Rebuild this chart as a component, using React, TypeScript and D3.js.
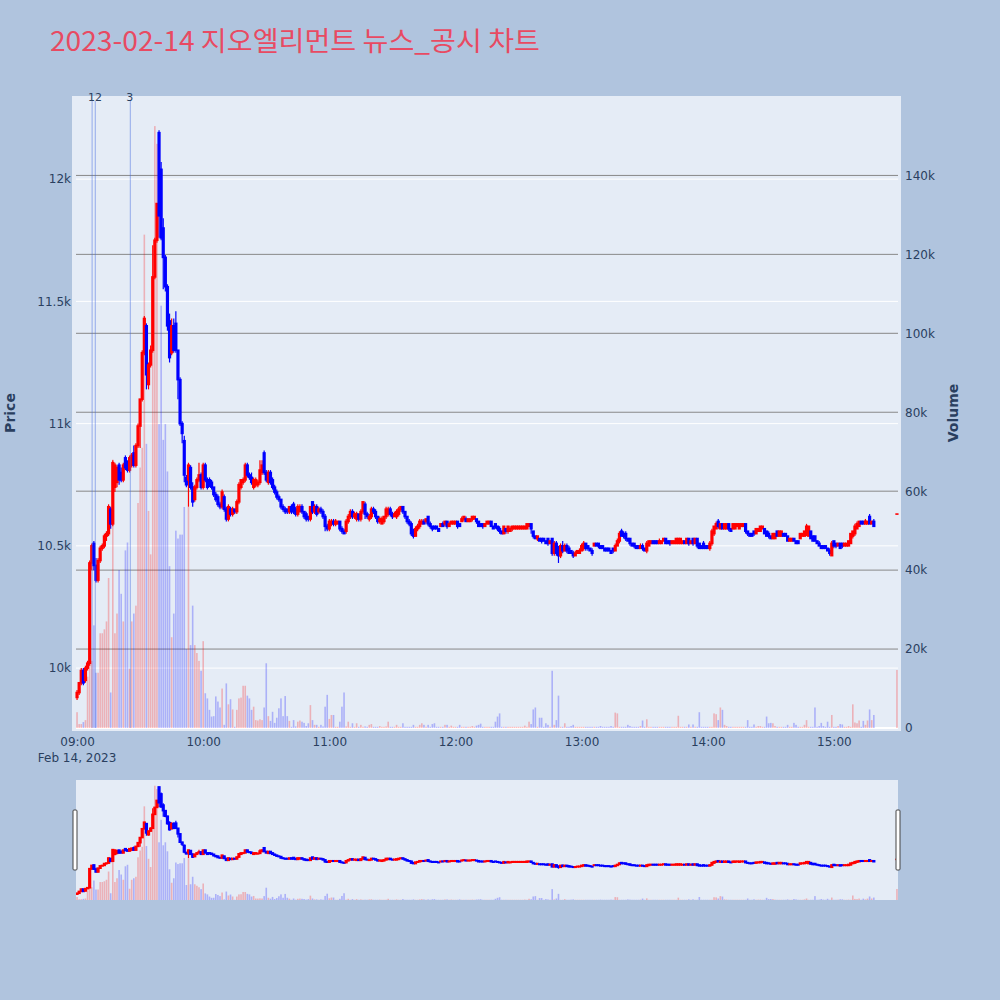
import { useEffect, useRef } from "react";
import * as d3 from "d3";

const title = "2023-02-14 지오엘리먼트 뉴스_공시 차트";
const tradeDay = "2023-02-14";
const firstBar = "09:00:00";

// 1-minute candles from 09:00 to 15:19 (one entry per minute)
const opens = [
  9880, 9900, 9940, 9990, 9950, 10000, 10020, 10430, 10510, 10420,
  10360, 10440, 10490, 10500, 10540, 10550, 10650, 10590, 10740, 10760,
  10830, 10800, 10770, 10860, 10830, 10810, 10830, 10880, 10830, 10910,
  10990, 11100, 11290, 11400, 11160, 11240, 11300, 11600, 11750, 12190,
  12040, 11800, 11680, 11560, 11420, 11290, 11400, 11410, 11300, 11180,
  11000, 10930, 10780, 10770, 10820, 10740, 10690, 10740, 10770, 10790,
  10740, 10830, 10770, 10770, 10760, 10740, 10710, 10700, 10670, 10660,
  10700, 10650, 10610, 10650, 10630, 10650, 10640, 10680, 10740, 10760,
  10770, 10830, 10790, 10780, 10740, 10750, 10750, 10760, 10800, 10880,
  10800, 10760, 10800, 10770, 10740, 10720, 10700, 10690, 10660, 10650,
  10650, 10640, 10660, 10670, 10650, 10630, 10640, 10660, 10640, 10630,
  10620, 10610, 10680, 10640, 10660, 10640, 10650, 10640, 10620, 10580,
  10570, 10590, 10600, 10590, 10590, 10600, 10570, 10560, 10560, 10600,
  10620, 10640, 10620, 10610, 10630, 10610, 10640, 10670, 10630, 10610,
  10620, 10650, 10640, 10620, 10600, 10590, 10600, 10620, 10630, 10650,
  10630, 10620, 10620, 10630, 10650, 10660, 10640, 10620, 10600, 10590,
  10560, 10540, 10570, 10580, 10590, 10600, 10600, 10620, 10590, 10580,
  10580, 10580, 10570, 10580, 10590, 10590, 10600, 10580, 10590, 10590,
  10590, 10600, 10590, 10600, 10610, 10610, 10600, 10600, 10610, 10610,
  10610, 10600, 10590, 10590, 10580, 10590, 10590, 10600, 10580, 10590,
  10580, 10570, 10560, 10550, 10570, 10560, 10560, 10570, 10570, 10570,
  10570, 10570, 10570, 10570, 10570, 10580, 10590, 10560, 10540, 10530,
  10530, 10530, 10530, 10520, 10530, 10510, 10530, 10470, 10510, 10480,
  10460, 10500, 10480, 10500, 10490, 10480, 10470, 10460, 10470, 10470,
  10480, 10490, 10510, 10500, 10490, 10480, 10500, 10510, 10510, 10500,
  10500, 10490, 10490, 10490, 10480, 10490, 10480, 10500, 10520, 10560,
  10550, 10550, 10530, 10530, 10510, 10510, 10500, 10500, 10490, 10500,
  10490, 10480, 10500, 10510, 10520, 10520, 10520, 10510, 10510, 10520,
  10530, 10520, 10520, 10510, 10510, 10510, 10510, 10510, 10510, 10520,
  10510, 10530, 10510, 10530, 10510, 10530, 10510, 10500, 10510, 10500,
  10500, 10490, 10510, 10550, 10570, 10600, 10570, 10590, 10570, 10570,
  10590, 10570, 10570, 10570, 10580, 10570, 10580, 10580, 10590, 10560,
  10550, 10550, 10560, 10550, 10560, 10560, 10570, 10570, 10560, 10550,
  10540, 10530, 10530, 10560, 10540, 10540, 10550, 10550, 10540, 10520,
  10520, 10530, 10520, 10520, 10530, 10540, 10540, 10550, 10540, 10560,
  10540, 10540, 10520, 10510, 10500, 10500, 10500, 10490, 10480, 10460,
  10520, 10510, 10500, 10510, 10510, 10500, 10500, 10500, 10510, 10540,
  10550, 10570, 10580, 10600, 10600, 10590, 10590, 10620, 10590, 10600,
];
const closes = [
  9900, 9940, 9990, 9940, 10000, 10020, 10430, 10500, 10420, 10360,
  10440, 10490, 10500, 10540, 10550, 10660, 10590, 10840, 10830, 10820,
  10770, 10770, 10830, 10820, 10810, 10860, 10870, 10830, 10910, 10990,
  11100, 11290, 11430, 11200, 11240, 11300, 11600, 11750, 11900, 11850,
  11760, 11680, 11560, 11400, 11270, 11400, 11300, 11300, 11180, 11000,
  10960, 10790, 10750, 10830, 10740, 10680, 10740, 10770, 10790, 10740,
  10830, 10770, 10740, 10750, 10740, 10710, 10690, 10670, 10660, 10720,
  10650, 10610, 10660, 10630, 10650, 10640, 10680, 10750, 10770, 10770,
  10830, 10790, 10780, 10760, 10770, 10770, 10760, 10810, 10830, 10800,
  10770, 10800, 10760, 10740, 10720, 10700, 10690, 10660, 10650, 10640,
  10640, 10660, 10640, 10640, 10630, 10660, 10660, 10640, 10620, 10610,
  10610, 10660, 10640, 10660, 10630, 10650, 10640, 10620, 10580, 10570,
  10600, 10600, 10590, 10600, 10600, 10570, 10560, 10550, 10600, 10620,
  10640, 10620, 10630, 10630, 10610, 10640, 10680, 10630, 10620, 10620,
  10650, 10640, 10620, 10600, 10610, 10610, 10620, 10650, 10650, 10630,
  10620, 10630, 10640, 10650, 10660, 10640, 10620, 10600, 10590, 10550,
  10540, 10570, 10580, 10600, 10600, 10590, 10610, 10590, 10580, 10570,
  10570, 10570, 10560, 10590, 10580, 10600, 10580, 10590, 10600, 10600,
  10600, 10580, 10580, 10610, 10620, 10600, 10610, 10610, 10620, 10620,
  10600, 10580, 10580, 10580, 10590, 10600, 10600, 10580, 10570, 10580,
  10570, 10560, 10550, 10580, 10560, 10580, 10570, 10580, 10580, 10580,
  10580, 10580, 10580, 10580, 10590, 10590, 10570, 10540, 10530, 10540,
  10520, 10520, 10520, 10510, 10510, 10520, 10470, 10510, 10470, 10460,
  10500, 10480, 10500, 10480, 10470, 10470, 10460, 10470, 10480, 10480,
  10500, 10510, 10490, 10490, 10480, 10470, 10510, 10500, 10500, 10490,
  10490, 10480, 10480, 10480, 10470, 10480, 10500, 10520, 10550, 10540,
  10540, 10530, 10520, 10510, 10500, 10500, 10490, 10490, 10500, 10490,
  10480, 10510, 10520, 10520, 10510, 10510, 10510, 10520, 10520, 10530,
  10510, 10510, 10510, 10520, 10520, 10530, 10530, 10530, 10520, 10510,
  10530, 10510, 10520, 10510, 10530, 10500, 10490, 10490, 10490, 10490,
  10490, 10510, 10560, 10580, 10590, 10580, 10590, 10570, 10590, 10590,
  10570, 10560, 10590, 10590, 10590, 10590, 10590, 10590, 10560, 10550,
  10540, 10540, 10550, 10570, 10570, 10580, 10580, 10550, 10540, 10540,
  10530, 10550, 10550, 10540, 10560, 10560, 10540, 10540, 10520, 10530,
  10530, 10520, 10510, 10510, 10550, 10550, 10560, 10580, 10580, 10530,
  10520, 10520, 10510, 10500, 10490, 10490, 10490, 10480, 10470, 10510,
  10500, 10500, 10510, 10490, 10500, 10510, 10510, 10520, 10550, 10560,
  10580, 10590, 10600, 10590, 10590, 10600, 10600, 10590, 10600, 10580,
];
const highs = [
  9910, 9940, 10000, 10000, 10010, 10030, 10440, 10510, 10520, 10450,
  10450, 10500, 10510, 10550, 10560, 10670, 10660, 10850, 10840, 10830,
  10840, 10820, 10840, 10870, 10850, 10870, 10880, 10910, 10920, 11000,
  11100, 11300, 11440, 11410, 11250, 11320, 11730, 11760, 11900, 12200,
  12070, 11840, 11690, 11570, 11450, 11430, 11430, 11460, 11300, 11190,
  11010, 10950, 10790, 10840, 10830, 10760, 10750, 10780, 10840, 10800,
  10840, 10840, 10780, 10780, 10770, 10740, 10720, 10710, 10680, 10730,
  10710, 10660, 10670, 10660, 10660, 10650, 10690, 10760, 10770, 10780,
  10840, 10840, 10800, 10800, 10780, 10780, 10770, 10850, 10850, 10890,
  10810, 10810, 10810, 10780, 10750, 10730, 10710, 10690, 10670, 10660,
  10650, 10660, 10670, 10680, 10660, 10670, 10670, 10670, 10640, 10640,
  10620, 10660, 10680, 10670, 10670, 10660, 10660, 10650, 10630, 10590,
  10610, 10610, 10610, 10610, 10600, 10600, 10580, 10570, 10610, 10630,
  10650, 10650, 10640, 10640, 10630, 10650, 10680, 10680, 10640, 10630,
  10660, 10660, 10650, 10620, 10620, 10620, 10620, 10660, 10660, 10660,
  10640, 10640, 10650, 10660, 10660, 10660, 10640, 10620, 10610, 10600,
  10570, 10580, 10590, 10610, 10610, 10610, 10610, 10620, 10600, 10580,
  10580, 10580, 10570, 10590, 10600, 10600, 10600, 10600, 10600, 10600,
  10600, 10600, 10590, 10620, 10620, 10620, 10610, 10610, 10620, 10620,
  10610, 10600, 10590, 10590, 10590, 10600, 10600, 10600, 10580, 10590,
  10580, 10580, 10560, 10580, 10570, 10580, 10580, 10580, 10580, 10580,
  10580, 10580, 10580, 10580, 10590, 10590, 10590, 10560, 10540, 10540,
  10530, 10530, 10530, 10520, 10530, 10520, 10530, 10520, 10520, 10500,
  10510, 10520, 10510, 10510, 10500, 10480, 10480, 10480, 10480, 10490,
  10510, 10520, 10510, 10500, 10490, 10490, 10510, 10510, 10510, 10500,
  10500, 10490, 10490, 10490, 10480, 10490, 10510, 10530, 10560, 10570,
  10560, 10560, 10530, 10530, 10510, 10510, 10500, 10500, 10510, 10510,
  10490, 10520, 10520, 10520, 10520, 10520, 10520, 10530, 10520, 10530,
  10530, 10520, 10520, 10520, 10520, 10530, 10530, 10530, 10520, 10520,
  10530, 10530, 10520, 10530, 10530, 10530, 10510, 10500, 10520, 10500,
  10500, 10520, 10570, 10580, 10600, 10610, 10590, 10590, 10590, 10590,
  10590, 10570, 10590, 10590, 10590, 10590, 10590, 10590, 10590, 10560,
  10550, 10550, 10560, 10570, 10570, 10580, 10580, 10570, 10560, 10560,
  10540, 10550, 10550, 10560, 10560, 10560, 10550, 10550, 10540, 10530,
  10530, 10530, 10520, 10520, 10550, 10550, 10560, 10590, 10580, 10560,
  10540, 10540, 10520, 10520, 10500, 10500, 10500, 10490, 10490, 10520,
  10520, 10510, 10510, 10510, 10510, 10510, 10510, 10520, 10550, 10560,
  10590, 10600, 10600, 10600, 10600, 10610, 10600, 10630, 10600, 10610,
];
const lows = [
  9870, 9890, 9930, 9930, 9940, 9990, 10010, 10400, 10400, 10350,
  10350, 10430, 10480, 10490, 10520, 10540, 10570, 10580, 10720, 10740,
  10750, 10760, 10760, 10810, 10800, 10800, 10820, 10820, 10820, 10900,
  10900, 11090, 11280, 11140, 11140, 11230, 11290, 11590, 11740, 11760,
  11750, 11550, 11540, 11380, 11250, 11280, 11290, 11290, 11100, 10990,
  10920, 10760, 10740, 10660, 10730, 10660, 10680, 10730, 10760, 10730,
  10730, 10760, 10730, 10740, 10730, 10700, 10680, 10660, 10650, 10650,
  10640, 10600, 10600, 10620, 10620, 10630, 10630, 10670, 10730, 10750,
  10760, 10780, 10770, 10750, 10730, 10740, 10740, 10750, 10790, 10790,
  10760, 10750, 10750, 10730, 10710, 10690, 10680, 10650, 10640, 10630,
  10630, 10630, 10630, 10630, 10620, 10620, 10640, 10630, 10610, 10600,
  10600, 10600, 10630, 10630, 10620, 10630, 10630, 10610, 10560, 10560,
  10560, 10580, 10580, 10580, 10590, 10560, 10550, 10550, 10550, 10590,
  10610, 10610, 10610, 10600, 10600, 10600, 10630, 10610, 10610, 10600,
  10610, 10630, 10610, 10590, 10590, 10590, 10590, 10610, 10620, 10620,
  10610, 10620, 10610, 10620, 10640, 10630, 10610, 10590, 10580, 10540,
  10530, 10540, 10560, 10570, 10590, 10590, 10590, 10580, 10570, 10560,
  10570, 10570, 10560, 10580, 10580, 10580, 10570, 10580, 10590, 10590,
  10590, 10570, 10580, 10600, 10600, 10600, 10600, 10600, 10600, 10610,
  10590, 10580, 10580, 10570, 10580, 10590, 10590, 10580, 10570, 10570,
  10560, 10550, 10550, 10550, 10550, 10550, 10560, 10560, 10570, 10570,
  10570, 10570, 10570, 10570, 10570, 10580, 10550, 10530, 10530, 10520,
  10520, 10510, 10520, 10510, 10500, 10510, 10460, 10460, 10460, 10430,
  10450, 10470, 10480, 10470, 10470, 10470, 10450, 10460, 10470, 10470,
  10480, 10480, 10480, 10480, 10480, 10460, 10500, 10500, 10490, 10490,
  10490, 10480, 10480, 10480, 10470, 10470, 10480, 10500, 10510, 10540,
  10530, 10520, 10520, 10500, 10500, 10490, 10490, 10490, 10490, 10480,
  10480, 10470, 10500, 10510, 10510, 10510, 10510, 10510, 10510, 10520,
  10510, 10510, 10500, 10510, 10510, 10510, 10510, 10510, 10510, 10510,
  10510, 10500, 10510, 10500, 10510, 10490, 10490, 10490, 10490, 10490,
  10490, 10480, 10500, 10540, 10570, 10570, 10570, 10570, 10570, 10570,
  10560, 10560, 10570, 10570, 10580, 10570, 10580, 10580, 10550, 10540,
  10540, 10540, 10540, 10550, 10560, 10560, 10570, 10550, 10540, 10530,
  10530, 10530, 10530, 10540, 10540, 10540, 10540, 10540, 10520, 10520,
  10520, 10520, 10510, 10510, 10530, 10540, 10540, 10540, 10540, 10530,
  10520, 10520, 10510, 10500, 10490, 10490, 10490, 10480, 10460, 10460,
  10490, 10490, 10500, 10490, 10490, 10500, 10500, 10500, 10510, 10530,
  10540, 10570, 10580, 10590, 10590, 10590, 10590, 10590, 10590, 10580,
];
// traded volume per minute, thousands of shares
const volumesK = [
  4, 1, 1, 1.5, 2, 13, 33, 17, 26, 14,
  14, 24, 24, 25, 27, 38, 9, 68, 24, 29,
  40, 34, 27, 45, 47, 15, 27, 29, 31, 57,
  66, 71, 125, 72, 55, 44, 108, 152.5, 148, 77,
  107, 73, 77, 65, 41, 23, 29, 50, 48, 49,
  49, 56, 20, 56, 21, 31, 21, 19, 17, 14.5,
  22, 8.8, 7.5, 4.6, 2.9, 3, 8, 6.7, 5.2, 10,
  0.8, 11.3, 6, 7.3, 4.7, 0.3, 4.6, 7.5, 7.7, 10.7,
  10.7, 8.2, 7.5, 4.6, 5.4, 2, 1.9, 2.2, 2, 5.2,
  16.4, 3, 1.8, 4.1, 1.3, 2.6, 5, 7.5, 3, 8.1,
  3, 1.8, 0.3, 2, 0.4, 1.6, 1.9, 1.6, 1.3, 0.5,
  1.2, 5.8, 2, 0.8, 0.8, 0.3, 0.8, 0.4, 5.4, 8.4,
  2.3, 3.3, 3.3, 0.3, 0.3, 1.6, 5.4, 9, 0.4, 1.6,
  0.3, 1.2, 0.3, 1.2, 0.3, 0.8, 0.3, 0.4, 0.3, 0.8,
  1, 0.3, 0.3, 0.3, 0.5, 0.3, 0.3, 0.4, 1.6, 0.3,
  0.3, 0.3, 0.8, 0.3, 0.3, 1.2, 0.3, 0.3, 0.3, 0.3,
  0.8, 0.3, 0.3, 0.8, 1.2, 0.8, 0.3, 0.8, 0.3, 1,
  1.2, 0.3, 0.3, 0.3, 0.3, 0.8, 0.8, 0.3, 0.6, 0.3,
  0.3, 0.3, 0.8, 0.3, 0.3, 0.3, 0.3, 0.3, 0.5, 0.3,
  0.6, 0.8, 1.1, 0.3, 0.3, 0.3, 0.3, 0.3, 0.3, 1.6,
  2.9, 3.7, 0.3, 0.3, 0.3, 0.3, 0.3, 0.3, 0.3, 0.3,
  0.3, 0.3, 0.3, 0.6, 0.3, 1.6, 1, 4.7, 5.2, 0.3,
  2.6, 2.6, 0.3, 1.2, 0.8, 0.3, 14.5, 0.8, 2, 8.2,
  0.3, 0.3, 1.2, 0.3, 0.3, 0.5, 0.8, 0.3, 0.3, 0.3,
  0.3, 0.3, 0.3, 0.3, 0.3, 0.3, 0.3, 0.3, 0.3, 0.5,
  0.3, 0.3, 0.3, 0.3, 0.5, 0.3, 3.9, 3.7, 0.3, 0.3,
  0.3, 0.3, 0.8, 0.5, 0.3, 0.3, 0.3, 0.3, 0.5, 1.9,
  0.3, 2.2, 0.3, 0.3, 0.3, 0.3, 0.3, 0.3, 0.3, 0.3,
  0.3, 0.3, 0.3, 0.3, 0.3, 0.3, 3.1, 0.3, 0.3, 0.3,
  0.3, 0.9, 0.3, 0.9, 0.3, 0.3, 4, 0.3, 0.3, 0.3,
  0.3, 0.3, 0.3, 3.7, 3.5, 2, 5.2, 4.6, 0.8, 0.5,
  0.3, 0.3, 0.3, 0.3, 0.3, 0.3, 0.3, 0.3, 0.3, 2,
  0.3, 0.3, 0.9, 0.3, 0.5, 0.5, 0.3, 0.3, 2.9, 1.2,
  1.3, 1.2, 0.5, 0.3, 0.3, 0.3, 0.3, 0.3, 0.8, 0.3,
  0.3, 1.3, 0.8, 0.3, 0.3, 0.3, 0.8, 2, 0.3, 0.3,
  0.3, 5.2, 0.3, 0.5, 1.3, 0.5, 0.3, 1.6, 0.3, 3.3,
  0.3, 0.3, 0.5, 1, 0.9, 0.3, 0.3, 0.5, 0.3, 6,
  1.4, 1.2, 1.9, 0.3, 1.8, 0.8, 1.9, 4.7, 2, 3.3,
];
// closing single-price auction
const auctionTime = "15:30:00";
const auctionPrice = 10630;
const auctionVolumeK = 14.7;

// news / disclosure markers
const newsTimes = ["09:07:10", "09:08:40", "09:25:20"];
const newsLabels = ["1", "2", "3"];

const priceTicks = [10000, 10500, 11000, 11500, 12000];
const volumeTicks = [0, 20000, 40000, 60000, 80000, 100000, 120000, 140000];
const priceRange = [9755, 12340];

const UP = "#ff0000";
const DOWN = "#0000ff";
const FONT = '"DejaVu Sans", Verdana, sans-serif';
const TITLE_FONT = '"Noto Sans CJK KR", "Noto Sans", sans-serif';
const INK = "#2a3f5f";

const App = () => {
  const svgRef = useRef<SVGSVGElement>(null);

  useEffect(() => {
    const svg = d3.select(svgRef.current);
    svg.selectAll("*").remove();

    const parse = d3.timeParse("%Y-%m-%d %H:%M:%S");
    const start = parse(`${tradeDay} ${firstBar}`) as Date;

    const bars = opens.map((o, i) => ({
      t: d3.timeMinute.offset(start, i),
      o,
      c: closes[i],
      h: highs[i],
      l: lows[i],
      v: volumesK[i] * 1000,
      up: false,
    }));
    bars.push({
      t: parse(`${tradeDay} ${auctionTime}`) as Date,
      o: auctionPrice,
      c: auctionPrice,
      h: auctionPrice,
      l: auctionPrice,
      v: auctionVolumeK * 1000,
      up: false,
    });
    bars.forEach((d, i) => {
      if (d.c !== d.o) d.up = d.c > d.o;
      else d.up = i > 0 ? d.c >= bars[i - 1].c : true;
    });

    const x = d3
      .scaleTime()
      .domain([
        d3.timeSecond.offset(bars[0].t, -30),
        d3.timeSecond.offset(bars[bars.length - 1].t, 30),
      ])
      .range([76, 898]);

    const volMax = (d3.max(bars, (d) => d.v) as number) * 1.05;

    const yPrice = d3.scaleLinear().domain(priceRange).range([728, 96]);
    const yVol = d3.scaleLinear().domain([0, volMax]).range([728, 96]);
    const yPriceS = d3.scaleLinear().domain(priceRange).range([900, 780]);
    const yVolS = d3.scaleLinear().domain([0, volMax]).range([900, 780]);

    // 背景
    svg.append("rect").attr("width", 1000).attr("height", 1000).attr("fill", "#b0c4de");

    svg
      .append("text")
      .attr("x", 50)
      .attr("y", 51)
      .attr("font-family", TITLE_FONT)
      .attr("font-size", 27)
      .attr("fill", "#e84a62")
      .attr("textLength", 490)
      .attr("lengthAdjust", "spacingAndGlyphs")
      .text(title);

    svg
      .append("rect")
      .attr("x", 72)
      .attr("y", 96)
      .attr("width", 829)
      .attr("height", 635)
      .attr("fill", "#e5ecf6");

    // price grid (white) and volume grid (gray)
    svg
      .append("g")
      .selectAll("line")
      .data(priceTicks)
      .join("line")
      .attr("x1", 76)
      .attr("x2", 898)
      .attr("y1", (d) => yPrice(d))
      .attr("y2", (d) => yPrice(d))
      .attr("stroke", "#fff")
      .attr("stroke-width", 1);

    svg
      .append("g")
      .selectAll("line")
      .data(volumeTicks.filter((d) => d > 0))
      .join("line")
      .attr("x1", 76)
      .attr("x2", 898)
      .attr("y1", (d) => yVol(d))
      .attr("y2", (d) => yVol(d))
      .attr("stroke", "#888")
      .attr("stroke-width", 1);

    svg
      .append("line")
      .attr("x1", 76)
      .attr("x2", 898)
      .attr("y1", yVol(0))
      .attr("y2", yVol(0))
      .attr("stroke", "#fff")
      .attr("stroke-width", 2);

    const drawSeries = (g: any, yP: any, yV: any) => {
      g.append("g")
        .selectAll("rect")
        .data(bars)
        .join("rect")
        .attr("x", (d: any) => x(d.t) - 0.8)
        .attr("width", 1.6)
        .attr("y", (d: any) => yV(d.v))
        .attr("height", (d: any) => yV(0) - yV(d.v))
        .attr("fill", (d: any) => (d.up ? UP : DOWN))
        .attr("fill-opacity", 0.25);

      g.append("g")
        .selectAll("line")
        .data(bars)
        .join("line")
        .attr("x1", (d: any) => x(d.t))
        .attr("x2", (d: any) => x(d.t))
        .attr("y1", (d: any) => yP(d.h))
        .attr("y2", (d: any) => yP(d.l))
        .attr("stroke", (d: any) => (d.up ? UP : DOWN))
        .attr("stroke-width", 1.2);

      g.append("g")
        .selectAll("rect")
        .data(bars)
        .join("rect")
        .attr("x", (d: any) => x(d.t) - 1.6)
        .attr("width", 3.2)
        .attr("y", (d: any) => yP(Math.max(d.o, d.c)) - 0.8)
        .attr("height", (d: any) => Math.abs(yP(d.o) - yP(d.c)) + 1.6)
        .attr("fill", (d: any) => (d.up ? UP : DOWN));
    };

    drawSeries(svg.append("g"), yPrice, yVol);

    // news markers; labels that would collide are nudged apart
    const news = svg.append("g");
    let lastLabelX = -Infinity;
    newsTimes.forEach((t, i) => {
      const nx = x(parse(`${tradeDay} ${t}`) as Date);
      const lx = Math.max(nx - 0.5, lastLabelX + 7);
      lastLabelX = lx;
      news
        .append("line")
        .attr("x1", nx)
        .attr("x2", nx)
        .attr("y1", 101)
        .attr("y2", 728)
        .attr("stroke", "royalblue")
        .attr("stroke-opacity", 0.5)
        .attr("stroke-width", 1);
      news
        .append("text")
        .attr("x", lx)
        .attr("y", 101)
        .attr("text-anchor", "middle")
        .attr("font-family", FONT)
        .attr("font-size", 11)
        .attr("fill", INK)
        .text(newsLabels[i]);
    });

    // axes
    const styleAxis = (g: any) => {
      g.select(".domain").remove();
      g.selectAll("text").attr("font-family", FONT).attr("font-size", 12).attr("fill", INK);
    };

    svg
      .append("g")
      .attr("transform", "translate(76,0)")
      .call(d3.axisLeft(yPrice).tickValues(priceTicks).tickSize(0).tickPadding(5).tickFormat(d3.format("~s")))
      .call(styleAxis);

    svg
      .append("g")
      .attr("transform", "translate(898,0)")
      .call(d3.axisRight(yVol).tickValues(volumeTicks).tickSize(0).tickPadding(7).tickFormat(d3.format("~s")))
      .call(styleAxis);

    svg
      .append("g")
      .attr("transform", "translate(0,728)")
      .call(
        d3
          .axisBottom(x)
          .ticks(d3.timeHour.every(1))
          .tickSize(0)
          .tickPadding(9)
          .tickFormat(d3.timeFormat("%H:%M") as any)
      )
      .call(styleAxis);

    svg
      .append("text")
      .attr("x", x(start))
      .attr("y", 762)
      .attr("text-anchor", "middle")
      .attr("font-family", FONT)
      .attr("font-size", 12)
      .attr("fill", INK)
      .text(d3.timeFormat("%b %-d, %Y")(start));

    svg
      .append("text")
      .attr("transform", "translate(15,413) rotate(-90)")
      .attr("text-anchor", "middle")
      .attr("font-family", FONT)
      .attr("font-size", 14)
      .attr("font-weight", "bold")
      .attr("fill", INK)
      .text("Price");

    svg
      .append("text")
      .attr("transform", "translate(958,413) rotate(-90)")
      .attr("text-anchor", "middle")
      .attr("font-family", FONT)
      .attr("font-size", 14)
      .attr("font-weight", "bold")
      .attr("fill", INK)
      .text("Volume");

    // range slider
    svg
      .append("defs")
      .append("clipPath")
      .attr("id", "slider-clip")
      .append("rect")
      .attr("x", 76)
      .attr("y", 780)
      .attr("width", 822)
      .attr("height", 120);

    svg
      .append("rect")
      .attr("x", 76)
      .attr("y", 780)
      .attr("width", 822)
      .attr("height", 120)
      .attr("fill", "#e5ecf6");

    drawSeries(svg.append("g").attr("clip-path", "url(#slider-clip)"), yPriceS, yVolS);

    [73, 896].forEach((hx) => {
      svg
        .append("rect")
        .attr("x", hx)
        .attr("y", 810)
        .attr("width", 4)
        .attr("height", 60)
        .attr("rx", 1)
        .attr("fill", "#fff")
        .attr("stroke", "#444")
        .attr("stroke-width", 1);
    });
  }, []);

  return (
    <svg
      ref={svgRef}
      width={1000}
      height={1000}
      style={{ position: "absolute", left: 0, top: 0 }}
    ></svg>
  );
};

export default App;
